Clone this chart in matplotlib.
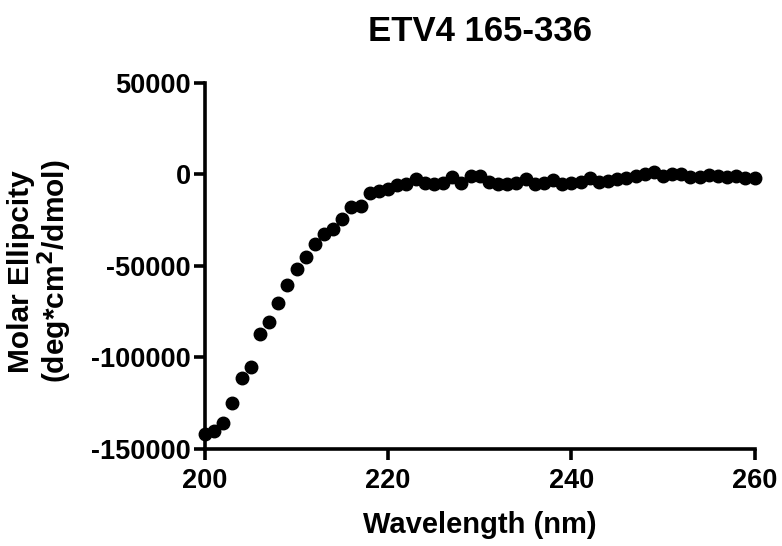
import matplotlib
matplotlib.use("Agg")
import matplotlib.pyplot as plt

plt.rcParams["font.family"] = ["Liberation Sans", "DejaVu Sans"]
plt.rcParams["font.weight"] = "bold"

# CD spectrum, ETV4 165-336
wavelength = list(range(200, 261))
ellipticity = [
    -142000, -140000, -136000, -125000, -111500, -105000, -87500, -80500,
    -70500, -60500, -51500, -45000, -38000, -32500, -30000, -24500,
    -18000, -17000, -10000, -9000, -8000, -6000, -5000, -2500,
    -4500, -5000, -4500, -1500, -4500, -1000, -1000, -4000,
    -5000, -5000, -4500, -2500, -5000, -4500, -3000, -5000,
    -4500, -4000, -2000, -4000, -3500, -2500, -2000, -1000,
    0, 1500, -1000, 0, 0, -1500, -1500, -500,
    -1000, -1500, -1000, -2000, -2000,
]

x_ticks = [200, 220, 240, 260]
y_ticks = [-150000, -100000, -50000, 0, 50000]

fig = plt.figure(figsize=(7.82, 5.46), dpi=100)
ax = fig.add_axes([0.262, 0.178, 0.703, 0.670])

ax.plot(wavelength, ellipticity, "o", color="black", markersize=9,
        clip_on=False, zorder=3)

ax.set_xlim(200, 260)
ax.set_ylim(-150000, 50000)
ax.set_xticks(x_ticks)
ax.set_yticks(y_ticks)
ax.set_yticklabels([str(v) for v in y_ticks])

for side in ("top", "right"):
    ax.spines[side].set_visible(False)
for side in ("left", "bottom"):
    ax.spines[side].set_linewidth(2.6)

ax.tick_params(axis="both", direction="out", length=8, width=2.6,
               labelsize=19.5)
ax.tick_params(axis="y", pad=2)
ax.tick_params(axis="x", pad=6)
for lab in ax.get_xticklabels() + ax.get_yticklabels():
    lab.set_fontweight("bold")

ax.set_xlabel("Wavelength (nm)", fontsize=21, fontweight="bold", labelpad=12)
fig.text(40.5 / 782, 1 - 271.5 / 546,
         "Molar Ellipcity\n(deg*cm$^{\\mathbf{2}}$/dmol)", fontsize=21.5,
         fontweight="bold", rotation=90, ha="center", va="center",
         ma="center", linespacing=1.0)
ax.set_title("ETV4 165-336", fontsize=25, fontweight="bold", pad=30)

fig.savefig("out.png", dpi=100)
